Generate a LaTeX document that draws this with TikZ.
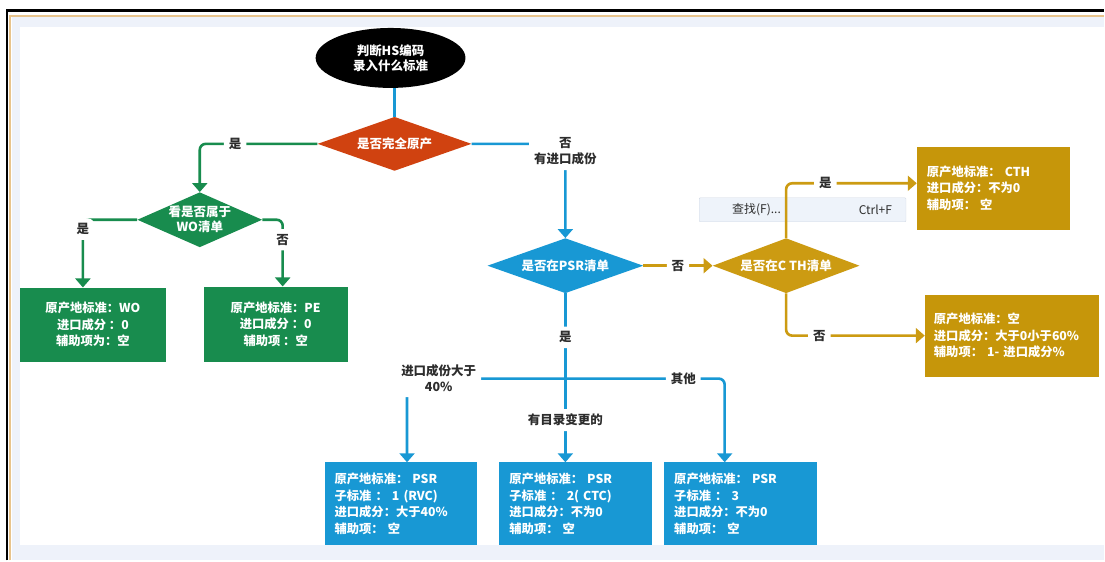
\documentclass[tikz,border=0pt]{standalone}
\usepackage{fontspec}
\setmainfont{Noto Sans CJK SC}
\usetikzlibrary{shapes.geometric,arrows.meta}

\definecolor{hsred}{RGB}{208,66,16}
\definecolor{hsgreen}{RGB}{24,140,78}
\definecolor{hsblue}{RGB}{24,152,212}
\definecolor{hsgold}{RGB}{204,155,18}
\definecolor{goldbox}{RGB}{198,150,10}
\definecolor{lblgray}{RGB}{45,45,45}
\definecolor{frametan}{RGB}{232,196,140}
\definecolor{frameblue}{RGB}{238,242,250}
\definecolor{popfill}{RGB}{238,243,250}
\definecolor{popline}{RGB}{208,216,228}

\tikzset{
  startnode/.style={ellipse, fill=black, text=white, inner sep=0pt, align=center,
    font=\bfseries\fontsize{12.5}{15}\selectfont},
  decision/.style={diamond, aspect=2.8, inner sep=0pt, text=white, align=center,
    font=\bfseries\fontsize{12.5}{15}\selectfont},
  result/.style={rectangle, text=white, inner xsep=10pt, inner ysep=0pt,
    font=\bfseries\fontsize{12.3}{16.5}\selectfont},
  lbl/.style={fill=white, text=lblgray, inner sep=5pt, align=center,
    font=\bfseries\fontsize{12.5}{16}\selectfont},
  link/.style={line width=2.6pt, rounded corners=6pt},
  headed/.style={-{Triangle[width=15pt,length=9pt]}},
  findtext/.style={text=lblgray, inner sep=0pt, font=\fontsize{12}{14}\selectfont},
}

\begin{document}
\begin{tikzpicture}[x=1pt, y=-1pt]
  % screenshot frame
  \fill[white] (0,0) rectangle (1105,561);
  \fill[frameblue] (12,17) rectangle (1105,27);
  \fill[frameblue] (12,17) rectangle (20,561);
  \fill[frameblue] (12,546) rectangle (1105,561);
  \draw[frametan, line width=2pt] (10.5,561) -- (10.5,16) -- (1105,16);
  \draw[line width=2.5pt] (7,561) -- (7,10.5) -- (1105,10.5);
  \useasboundingbox (0,0) rectangle (1105,561);

  % decisions
  \node[startnode, minimum width=150, minimum height=60] (start) at (391,58) {判断HS编码\\录入什么标准};
  \node[decision, fill=hsred, minimum width=154, minimum height=54] (orig) at (395,144) {是否完全原产};
  \node[decision, fill=hsgreen, aspect=2.27, minimum width=125, minimum height=55] (wo) at (200,220) {看是否属于\\WO清单};
  \node[decision, fill=hsblue, minimum width=156, minimum height=55] (psr) at (566,266) {是否在PSR清单};
  \node[decision, fill=hsgold, minimum width=147, minimum height=55] (cth) at (787,266) {是否在C TH清单};

  % results
  \node[result, fill=hsgreen, align=center, minimum width=146, minimum height=74] (wobox) at (93,325)
    {原产地标准：WO\\进口成分 ：0\\辅助项为：空};
  \node[result, fill=hsgreen, align=center, minimum width=144, minimum height=75] (pebox) at (276,324.5)
    {原产地标准：PE\\进口成分 ：0\\辅助项 ：空};
  \node[result, fill=goldbox, align=left, text width=133, minimum height=83] (cthbox) at (994.5,188.5)
    {原产地标准： CTH\\进口成分：不为0\\辅助项： 空};
  \node[result, fill=goldbox, align=left, text width=156, inner xsep=9pt, minimum height=82] (nonebox) at (1013,336)
    {原产地标准：空\\进口成分：大于0小于60\%\\辅助项： 1- 进口成分\%};
  \node[result, fill=hsblue, align=left, text width=133, minimum height=83] (rvcbox) at (401.5,504.5)
    {原产地标准： PSR\\子标准 ： 1 (RVC)\\进口成分：大于40\%\\辅助项： 空};
  \node[result, fill=hsblue, align=left, text width=133, minimum height=83] (ctcbox) at (576.5,504.5)
    {原产地标准： PSR\\子标准 ： 2( CTC)\\进口成分：不为0\\辅助项： 空};
  \node[result, fill=hsblue, align=left, text width=133, minimum height=83] (thirdbox) at (741.5,504.5)
    {原产地标准： PSR\\子标准 ： 3\\进口成分：不为0\\辅助项： 空};

  % find popup
  \node[draw=popline, fill=popfill, minimum width=207, minimum height=24, inner sep=0pt, rounded corners=1pt] (finder) at (803.5,210) {};
  \node[findtext, anchor=west] (findlabel) at ([xshift=33pt]finder.west) {查找(F)...};
  \node[findtext, anchor=east] (findkey) at ([xshift=-14pt]finder.east) {Ctrl+F};

  % connectors
  \draw[link, hsblue] (start.south -| orig.north) -- (orig.north);
  \draw[link, hsgreen, headed] (orig.west) -| node[lbl, pos=0.35] (yesorig) {是} (wo.north);
  \draw[link, hsblue, headed] (orig.east) -| node[lbl, pos=0.54] (noorig) {否\\有进口成份} (psr.north);
  \draw[link, hsgreen, headed] (wo.west) -| node[lbl, pos=0.57] (yeswo) {是} ([xshift=-10pt]wobox.north);
  \draw[link, hsgreen, headed] (wo.east) -| node[lbl, pos=0.65] (nowo) {否} ([xshift=7pt]pebox.north);
  \draw[link, hsgold, headed] (psr.east) -- node[lbl] (nopsr) {否} (cth.west);
  \draw[link, hsgold, headed] (cth.north) |- node[lbl, pos=0.65] (yescth) {是} ([yshift=5pt]cthbox.west);
  \draw[link, hsgold, headed] (cth.south) |- node[lbl, pos=0.62] (nocth) {否} (nonebox.west);
  \draw[link, hsblue, headed] (psr.south) -- node[lbl, pos=0.26] (yespsr) {是}
    node[lbl, pos=0.75] (catalog) {有目录变更的} (psr.south |- ctcbox.north);
  \coordinate (fork) at (566,379);
  \draw[link, hsblue, headed] (fork) -| node[lbl, pos=0.4] (over40) {进口成份大于\\40\%} ([xshift=6pt]rvcbox.north);
  \draw[link, hsblue, headed] (fork) -| node[lbl, pos=0.37] (others) {其他} ([xshift=-16pt]thirdbox.north);
\end{tikzpicture}
\end{document}
